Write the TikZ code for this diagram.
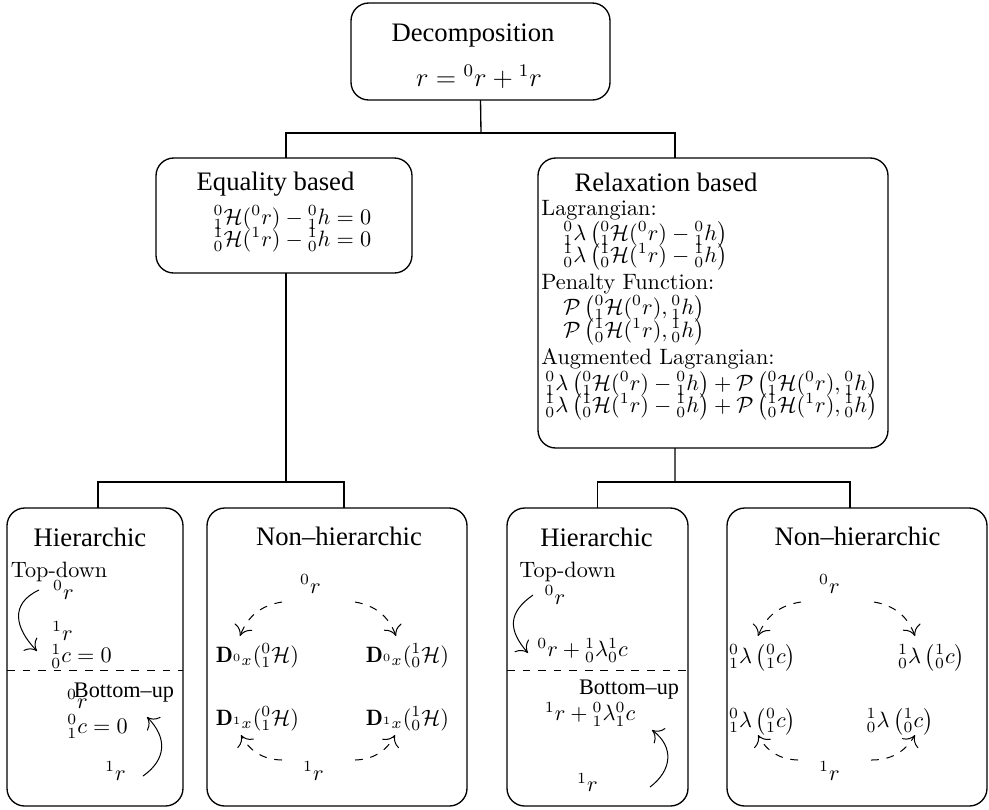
\documentclass[tikz,border=0pt]{standalone}
\usepackage{fontspec}
\newfontfamily\headfont{Liberation Serif}
\usetikzlibrary{arrows.meta}
\begin{document}
\begin{tikzpicture}[x=0.45pt,y=0.45pt,
  box/.style={draw, line width=0.6pt, rounded corners=8pt, inner sep=0pt, outer sep=0pt},
  head/.style={font=\headfont\fontsize{12}{14}\selectfont, anchor=base, inner sep=0pt},
  subhead/.style={font=\headfont\fontsize{10}{12}\selectfont, anchor=base, inner sep=0pt},
  lbl/.style={anchor=base, inner sep=0pt, font=\fontsize{10}{12}\selectfont},
  lefttxt/.style={anchor=base west, inner sep=0pt, font=\fontsize{10}{12}\selectfont},
  link/.style={line width=0.6pt},
  flow/.style={line width=0.45pt, -{To[length=4.5pt,width=8.5pt]}},
  cyc/.style={flow, dash pattern=on 3.5pt off 3.5pt},
  sep/.style={line width=0.45pt, dash pattern=on 3.5pt off 3.5pt}]

\useasboundingbox (0,0) rectangle (989,-809);

% ---------- boxes ----------
\node[box, minimum width=116.55pt, minimum height=43.65pt] (top) at (480.5,-51.5) {};
\node[box, minimum width=115.2pt, minimum height=51.75pt] (eq) at (284,-215.5) {};
\node[box, minimum width=157.5pt, minimum height=130.5pt] (rel) at (713,-303) {};
\node[box, minimum width=79.2pt, minimum height=134.1pt] (h1) at (95,-657) {};
\node[box, minimum width=117pt, minimum height=134.1pt] (n1) at (337,-657) {};
\node[box, minimum width=81.45pt, minimum height=134.1pt] (h2) at (597.5,-657) {};
\node[box, minimum width=117pt, minimum height=134.1pt] (n2) at (857,-657) {};

% ---------- tree connectors ----------
\coordinate (j0) at (481,-133);
\coordinate (j1) at (286,-482);
\coordinate (j2) at (675,-482);
\draw[link] (top.south) -- (j0);
\draw[link] ([xshift=0.9pt]eq.north) |- (j0) -| ([xshift=-17.1pt]rel.north);
\draw[link] ([xshift=0.9pt]eq.south) -- (j1);
\draw[link] ([xshift=1.35pt]h1.north) |- (j1) -| ([xshift=3.15pt]n1.north);
\draw[link] ([xshift=-17.1pt]rel.south) -- (j2);
\draw[link] (h2.north) |- (j2) -| ([xshift=-3.15pt]n2.north);

% ---------- root ----------
\node[head] (tTitle) at (473,-41) {Decomposition};
\node[lbl, font=\fontsize{12}{14}\selectfont] (tMath) at (479,-86) {$r={}^0r+{}^1r$};

% ---------- equality based ----------
\node[head] (eTitle) at (275.5,-190) {Equality based};
\node[lbl] (eM1) at (292.5,-224) {${}^0_1\mathcal{H}({}^0r)-{}^0_1h=0$};
\node[lbl] (eM2) at (292.5,-246) {${}^1_0\mathcal{H}({}^1r)-{}^1_0h=0$};

% ---------- relaxation based ----------
\node[head] (rTitle) at (666,-191) {Relaxation based};
\node[lefttxt] (rLag) at (541,-215) {Lagrangian:};
\node[lefttxt] (rM1) at (563,-240) {${}^0_1\lambda\left({}^0_1\mathcal{H}({}^0r)-{}^0_1h\right)$};
\node[lefttxt] (rM2) at (563,-262) {${}^1_0\lambda\left({}^1_0\mathcal{H}({}^1r)-{}^1_0h\right)$};
\node[lefttxt] (rPen) at (541,-289) {Penalty Function:};
\node[lefttxt] (rM3) at (563,-314) {$\mathcal{P}\left({}^0_1\mathcal{H}({}^0r),{}^0_1h\right)$};
\node[lefttxt] (rM4) at (563,-337) {$\mathcal{P}\left({}^1_0\mathcal{H}({}^1r),{}^1_0h\right)$};
\node[lefttxt] (rAug) at (541,-364) {Augmented Lagrangian:};
\node[lefttxt] (rM5) at (545,-390) {${}^0_1\lambda\left({}^0_1\mathcal{H}({}^0r)-{}^0_1h\right)+\mathcal{P}\left({}^0_1\mathcal{H}({}^0r),{}^0_1h\right)$};
\node[lefttxt] (rM6) at (545,-412) {${}^1_0\lambda\left({}^1_0\mathcal{H}({}^1r)-{}^1_0h\right)+\mathcal{P}\left({}^1_0\mathcal{H}({}^1r),{}^1_0h\right)$};

% ---------- hierarchic (equality) ----------
\node[head] (aTitle) at (90,-546) {Hierarchic};
\node[lbl] (aTD) at (59,-577) {Top-down};
\node[lbl] (aR0) at (63.5,-599) {${}^0r$};
\node[lbl] (aR1) at (62.5,-640) {${}^1r$};
\node[lbl] (aC1) at (81.5,-662.7) {${}^1_0c=0$};
\draw[sep] (h1.west |- 0,-670.7) -- (h1.east |- 0,-670.7);
\node[subhead] (aBU) at (124,-697) {Bottom–up};
\node[lbl] (aR0b) at (77.5,-708) {${}^0r$};
\node[lbl] (aC0) at (97.5,-733) {${}^0_1c=0$};
\node[lbl] (aR1b) at (115.5,-780) {${}^1r$};
\draw[flow] ([shift={(-24.5,9)}]aR0.base) to[out=205,in=134,looseness=1.35] ([shift={(-44.5,11.7)}]aC1.base);
\draw[flow] ([shift={(27.5,4)}]aR1b.base) to[out=35,in=-45,looseness=1.25] ([shift={(49.5,16)}]aC0.base);

% ---------- non-hierarchic (equality) ----------
\node[head] (bTitle) at (339,-545) {Non–hierarchic};
\node[lbl] (bR0) at (310.5,-593) {${}^0r$};
\node[lbl] (bD00) at (257.5,-662) {$\mathbf{D}_{{}^0x}({}^0_1\mathcal{H})$};
\node[lbl] (bD01) at (407.5,-662) {$\mathbf{D}_{{}^0x}({}^1_0\mathcal{H})$};
\node[lbl] (bD10) at (257.5,-725) {$\mathbf{D}_{{}^1x}({}^0_1\mathcal{H})$};
\node[lbl] (bD11) at (407.5,-725) {$\mathbf{D}_{{}^1x}({}^1_0\mathcal{H})$};
\node[lbl] (bR1) at (313.5,-780) {${}^1r$};
\draw[cyc] ([shift={(-28.5,-9)}]bR0.base) to[bend right=30] ([shift={(-17.5,26)}]bD00.base);
\draw[cyc] ([shift={(44.5,-9)}]bR0.base) to[bend left=30] ([shift={(-11.5,26)}]bD01.base);
\draw[cyc] ([shift={(-31.5,20)}]bR1.base) to[bend left=30] ([shift={(-16.5,-10)}]bD10.base);
\draw[cyc] ([shift={(41.5,20)}]bR1.base) to[bend right=30] ([shift={(-12.5,-10)}]bD11.base);

% ---------- hierarchic (relaxation) ----------
\node[head] (cTitle) at (596.5,-546) {Hierarchic};
\node[lbl] (cTD) at (567.5,-577) {Top-down};
\node[lbl] (cR0) at (555,-604) {${}^0r$};
\node[lbl] (cE1) at (582.5,-656.7) {${}^0r+{}^1_0\lambda{}^1_0c$};
\draw[sep] (h2.west |- 0,-670.7) -- (h2.east |- 0,-670.7);
\node[subhead] (cBU) at (629,-694) {Bottom–up};
\node[lbl] (cE2) at (590,-720.7) {${}^1r+{}^0_1\lambda{}^0_1c$};
\node[lbl] (cR1) at (587.5,-791.7) {${}^1r$};
\draw[flow] ([shift={(-22,9)}]cR0.base) to[out=215,in=131,looseness=1.35] ([shift={(-54.5,3.7)}]cE1.base);
\draw[flow] ([shift={(62.5,4.7)}]cR1.base) to[out=37,in=-37,looseness=1.25] ([shift={(62,-9.3)}]cE2.base);

% ---------- non-hierarchic (relaxation) ----------
\node[head] (dTitle) at (857.5,-545) {Non–hierarchic};
\node[lbl] (dR0) at (829.5,-593) {${}^0r$};
\node[lbl] (dL00) at (762.5,-663) {${}^0_1\lambda\left({}^0_1c\right)$};
\node[lbl] (dL01) at (931.5,-663) {${}^1_0\lambda\left({}^1_0c\right)$};
\node[lbl] (dL10) at (762.5,-727) {${}^0_1\lambda\left({}^0_1c\right)$};
\node[lbl] (dL11) at (900,-727) {${}^1_0\lambda\left({}^1_0c\right)$};
\node[lbl] (dR1) at (829.5,-780) {${}^1r$};
\draw[cyc] ([shift={(-28.5,-9)}]dR0.base) to[bend right=30] ([shift={(-4.5,27)}]dL00.base);
\draw[cyc] ([shift={(44.5,-9)}]dR0.base) to[bend left=30] ([shift={(-16.5,27)}]dL01.base);
\draw[cyc] ([shift={(-31.5,20)}]dR1.base) to[bend left=30] ([shift={(-4.5,-8)}]dL10.base);
\draw[cyc] ([shift={(41.5,20)}]dR1.base) to[bend right=30] ([shift={(15,-8)}]dL11.base);
\end{tikzpicture}
\end{document}
